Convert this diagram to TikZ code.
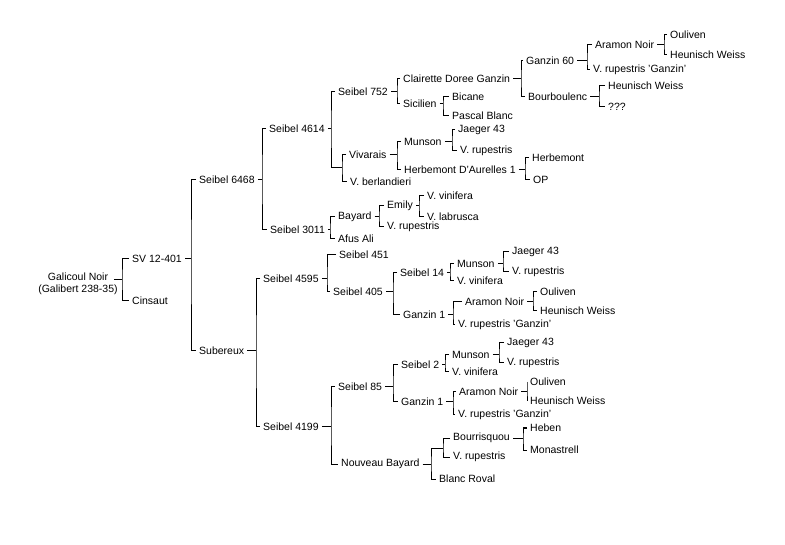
\documentclass[tikz,border=0pt]{standalone}
\usepackage{fontspec}
\setmainfont{Liberation Sans}
\usetikzlibrary{positioning,calc}

\begin{document}
\begin{tikzpicture}[
  x=1pt, y=-1pt,
  cv/.style={anchor=west, inner xsep=3pt, inner ysep=1pt, font=\fontsize{10.5}{12}\selectfont},
  link/.style={line width=1pt, line join=miter}
]
\useasboundingbox[fill=white] (0,0) rectangle (785,545);

% Root and first generation
\node[cv, anchor=center, align=center, inner xsep=0pt] (gal) at (78,284) {Galicoul Noir\\(Galibert 238-35)};
\coordinate (jgal) at (122,280);
\node[cv] (sv) at (129,259) {SV 12-401};
\node[cv] (cinsaut) at (129,301) {Cinsaut};
\draw[link] ([xshift=-4pt]jgal -| gal.east) -- (jgal);
\draw[link] (sv.west) -| (jgal) |- (cinsaut.west);

\coordinate (jsv) at (191,259);
\node[cv] (s6468) at (196,180) {Seibel 6468};
\node[cv] (subereux) at (196,351) {Subereux};
\draw[link] (sv.east) -- (jsv);
\draw[link] (s6468.west) -| (jsv) |- (subereux.west);

% Seibel 6468 branch
\coordinate (j6468) at (262,180);
\node[cv] (s4614) at (266,129) {Seibel 4614};
\node[cv] (s3011) at (267,230) {Seibel 3011};
\draw[link] (s6468.east) -- (j6468);
\draw[link] (s4614.west) -| (j6468) |- (s3011.west);

\coordinate (j4614) at (331,129);
\node[cv] (s752) at (335,92) {Seibel 752};
\coordinate (vivx) at (342,168);
\draw[link] (s4614.east) -- (j4614);
\draw[link] (s752.west) -| (j4614) |- (vivx);

\coordinate (j752) at (397,92);
\node[cv] (clairette) at (400,79) {Clairette Doree Ganzin};
\node[cv] (sicilien) at (400,104) {Sicilien};
\draw[link] (s752.east) -- (j752);
\draw[link] (clairette.west) -| (j752) |- (sicilien.west);

\coordinate (jclair) at (521,79);
\node[cv] (ganzin60) at (523,61) {Ganzin 60};
\node[cv] (bourboulenc) at (525,97) {Bourboulenc};
\draw[link] (clairette.east) -- (jclair);
\draw[link] (ganzin60.west) -| (jclair) |- (bourboulenc.west);

\coordinate (jg60) at (587,61);
\node[cv] (aramon1) at (592,45) {Aramon Noir};
\node[cv] (vrupg1) at (590,70) {V. rupestris 'Ganzin'};
\draw[link] (ganzin60.east) -- (jg60);
\draw[link] (aramon1.west) -| (jg60) |- (vrupg1.west);

\coordinate (jaram1) at (664,45);
\node[cv] (ouliven1) at (667,35) {Ouliven};
\node[cv] (heunisch1) at (667,55) {Heunisch Weiss};
\draw[link] (aramon1.east) -- (jaram1);
\draw[link] (ouliven1.west) -| (jaram1) |- (heunisch1.west);

\coordinate (jbourb) at (599,97);
\node[cv] (heunisch2) at (605,86) {Heunisch Weiss};
\node[cv] (unknown) at (605,107) {???};
\draw[link] (bourboulenc.east) -- (jbourb);
\draw[link] (heunisch2.west) -| (jbourb) |- (unknown.west);

\coordinate (jsicil) at (443,104);
\node[cv] (bicane) at (449,97) {Bicane};
\node[cv] (pascal) at (449,116) {Pascal Blanc};
\draw[link] (sicilien.east) -- (jsicil);
\draw[link] (bicane.west) -| (jsicil) |- (pascal.west);

\node[cv] (vivarais) at (346,155) {Vivarais};
\node[cv] (berland) at (347,182) {V. berlandieri};
\draw[link] (vivarais.west) -| (vivx) |- (berland.west);

\coordinate (jviv) at (397,155);
\node[cv] (munson1) at (401,142) {Munson};
\node[cv] (herbd) at (401,170) {Herbemont D'Aurelles 1};
\draw[link] (vivarais.east) -- (jviv);
\draw[link] (munson1.west) -| (jviv) |- (herbd.west);

\coordinate (jmun1) at (452,142);
\node[cv] (jaeger1) at (455,130) {Jaeger 43};
\node[cv] (vrup1) at (457,151) {V. rupestris};
\draw[link] (munson1.east) -- (jmun1);
\draw[link] (jaeger1.west) -| (jmun1) |- (vrup1.west);

\coordinate (jherbd) at (525,170);
\node[cv] (herbemont) at (529,158) {Herbemont};
\node[cv] (op) at (530,180) {OP};
\draw[link] (herbd.east) -- (jherbd);
\draw[link] (herbemont.west) -| (jherbd) |- (op.west);

\coordinate (j3011) at (330,230);
\node[cv] (bayard) at (335,217) {Bayard};
\node[cv] (afus) at (335,239) {Afus Ali};
\draw[link] (s3011.east) -- (j3011);
\draw[link] (bayard.west) -| (j3011) |- (afus.west);

\coordinate (jbay) at (379,217);
\node[cv] (emily) at (384,206) {Emily};
\node[cv] (vrup2) at (384,227) {V. rupestris};
\draw[link] (bayard.east) -- (jbay);
\draw[link] (emily.west) -| (jbay) |- (vrup2.west);

\coordinate (jemily) at (419,206);
\node[cv] (vinifera1) at (424,196) {V. vinifera};
\node[cv] (labrusca) at (424,217) {V. labrusca};
\draw[link] (emily.east) -- (jemily);
\draw[link] (vinifera1.west) -| (jemily) |- (labrusca.west);

% Subereux branch
\coordinate (jsub) at (256,351);
\node[cv] (s4595) at (260,279) {Seibel 4595};
\node[cv] (s4199) at (260,427) {Seibel 4199};
\draw[link] (subereux.east) -- (jsub);
\draw[link] (s4595.west) -| (jsub) |- (s4199.west);

\coordinate (j4595) at (327,279);
\node[cv] (s451) at (336,255) {Seibel 451};
\node[cv] (s405) at (330,292) {Seibel 405};
\draw[link] (s4595.east) -- (j4595);
\draw[link] (s451.west) -| (j4595) |- (s405.west);

\coordinate (j405) at (393,292);
\node[cv] (s14) at (397,273) {Seibel 14};
\node[cv] (ganzin1a) at (400,315) {Ganzin 1};
\draw[link] (s405.east) -- (j405);
\draw[link] (s14.west) -| (j405) |- (ganzin1a.west);

\coordinate (j14) at (450,273);
\node[cv] (munson2) at (454,264) {Munson};
\node[cv] (vinifera2) at (454,281) {V. vinifera};
\draw[link] (s14.east) -- (j14);
\draw[link] (munson2.west) -| (j14) |- (vinifera2.west);

\coordinate (jmun2) at (503,264);
\node[cv] (jaeger2) at (509,252) {Jaeger 43};
\node[cv] (vrup3) at (509,272) {V. rupestris};
\draw[link] (munson2.east) -- (jmun2);
\draw[link] (jaeger2.west) -| (jmun2) |- (vrup3.west);

\coordinate (jg1a) at (453,315);
\node[cv] (aramon2) at (462,302) {Aramon Noir};
\node[cv] (vrupg2) at (455,325) {V. rupestris 'Ganzin'};
\draw[link] (ganzin1a.east) -- (jg1a);
\draw[link] (aramon2.west) -| (jg1a) |- (vrupg2.west);

\coordinate (jaram2) at (533,302);
\node[cv] (ouliven2) at (537,292) {Ouliven};
\node[cv] (heunisch3) at (537,311) {Heunisch Weiss};
\draw[link] (aramon2.east) -- (jaram2);
\draw[link] (ouliven2.west) -| (jaram2) |- (heunisch3.west);

\coordinate (j4199) at (331,427);
\node[cv] (s85) at (335,387) {Seibel 85};
\node[cv] (nbayard) at (338,464) {Nouveau Bayard};
\draw[link] (s4199.east) -- (j4199);
\draw[link] (s85.west) -| (j4199) |- (nbayard.west);

\coordinate (j85) at (393,387);
\node[cv] (s2) at (398,365) {Seibel 2};
\node[cv] (ganzin1b) at (398,402) {Ganzin 1};
\draw[link] (s85.east) -- (j85);
\draw[link] (s2.west) -| (j85) |- (ganzin1b.west);

\coordinate (j2) at (445,365);
\node[cv] (munson3) at (449,355) {Munson};
\node[cv] (vinifera3) at (449,372) {V. vinifera};
\draw[link] (s2.east) -- (j2);
\draw[link] (munson3.west) -| (j2) |- (vinifera3.west);

\coordinate (jmun3) at (499,355);
\node[cv] (jaeger3) at (504,343) {Jaeger 43};
\node[cv] (vrup4) at (504,363) {V. rupestris};
\draw[link] (munson3.east) -- (jmun3);
\draw[link] (jaeger3.west) -| (jmun3) |- (vrup4.west);

\coordinate (jg1b) at (453,402);
\node[cv] (aramon3) at (456,392) {Aramon Noir};
\node[cv] (vrupg3) at (455,415) {V. rupestris 'Ganzin'};
\draw[link] (ganzin1b.east) -- (jg1b);
\draw[link] (aramon3.west) -| (jg1b) |- (vrupg3.west);

\coordinate (jaram3) at (527,392);
\node[cv] (ouliven3) at (527,382) {Ouliven};
\node[cv] (heunisch4) at (527,401) {Heunisch Weiss};
\draw[link] (aramon3.east) -- (jaram3);
\draw[link] (ouliven3.west) -| (jaram3) |- (heunisch4.west);

\coordinate (jnbay) at (431,464);
\coordinate (bourx) at (443,448);
\node[cv] (blanc) at (436,479) {Blanc Roval};
\draw[link] (nbayard.east) -- (jnbay);
\draw[link] (bourx) -| (jnbay) |- (blanc.west);

\node[cv] (bourrisquou) at (450,438) {Bourrisquou};
\node[cv] (vrup5) at (450,457) {V. rupestris};
\draw[link] (bourrisquou.west) -| (bourx) |- (vrup5.west);

\coordinate (jbourr) at (523,438);
\node[cv] (heben) at (527,428) {Heben};
\node[cv] (monastrell) at (527,450) {Monastrell};
\draw[link] (bourrisquou.east) -- (jbourr);
\draw[link] (heben.west) -| (jbourr) |- (monastrell.west);

\end{tikzpicture}
\end{document}
